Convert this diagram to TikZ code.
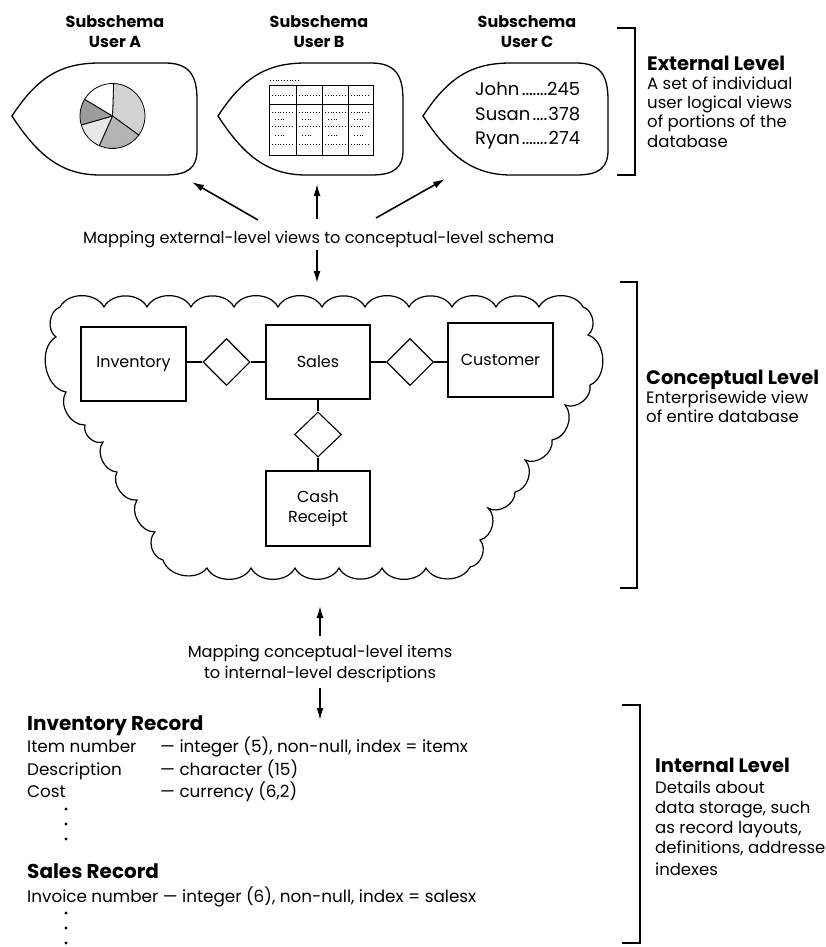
\documentclass[tikz,border=0pt]{standalone}
\usepackage{fontspec}
\setmainfont{Poppins}
\usetikzlibrary{arrows.meta,shapes.geometric}
\newcommand\ldr[3]{\hbox to #1{#2\leaders\hbox to 3.6pt{\hss.\hss}\hfill#3}}
\begin{document}
\begin{tikzpicture}[x=1pt,y=-1pt,
  t/.style={inner sep=0pt,anchor=base west,font=\fontsize{16.2}{19}\selectfont},
  ttl/.style={inner sep=0pt,anchor=base,font=\fontsize{16}{19}\bfseries\selectfont},
  lvl/.style={inner sep=0pt,anchor=base west,font=\fontsize{19.5}{22}\bfseries\selectfont},
  desc/.style={inner sep=0pt,anchor=base west,font=\fontsize{16.5}{19}\selectfont},
  rec/.style={inner sep=0pt,anchor=base west,font=\fontsize{16.8}{19}\selectfont},
  rech/.style={inner sep=0pt,anchor=base west,font=\fontsize{20}{22}\bfseries\selectfont},
  arr/.style={line width=1.6pt,-{Latex[length=12pt,width=7pt]}},
  brk/.style={line width=1.8pt},
  blob/.style={line width=1.3pt},
  ent/.style={draw,line width=1.1pt,inner sep=0pt,font=\fontsize{16}{20}\selectfont,align=center},
  rel/.style={draw,line width=1.1pt,diamond,inner sep=0pt,minimum width=47pt,minimum height=47pt},
  cl/.style={bend left=62},
  dotl/.style={line width=1pt,dash pattern=on 1pt off 1.8pt},
  sl/.style={draw=black,line width=0.8pt}]
\useasboundingbox (0,0) rectangle (826,947);
\fill[white] (0,0) rectangle (826,947);

% ---------- external level ----------
\node[ttl] (tA1) at (115,28) {Subschema};
\node[ttl] (tA2) at (115,48) {User A};
\node[ttl] (tB1) at (319,28) {Subschema};
\node[ttl] (tB2) at (319,48) {User B};
\node[ttl] (tC1) at (527,28) {Subschema};
\node[ttl] (tC2) at (527,48) {User C};

\foreach \dx in {0,206,411}{
  \draw[blob,xshift=\dx pt] (12,116) .. controls (38,76) and (62,63) .. (100,63)
    -- (165,63) .. controls (190,63) and (197,76) .. (197,100)
    -- (197,150) .. controls (197,168) and (188,175) .. (165,175)
    -- (100,175) .. controls (62,175) and (38,156) .. cycle;
}

% pie chart
\coordinate (pc) at (112.5,116);
\filldraw[sl,fill=gray!35] (pc) -- ++(-88:32.5) arc[start angle=-88,end angle=36,radius=32.5] -- cycle;
\filldraw[sl,fill=gray!58] (pc) -- ++(36:32.5) arc[start angle=36,end angle=114,radius=32.5] -- cycle;
\filldraw[sl,fill=gray!18] (pc) -- ++(114:32.5) arc[start angle=114,end angle=164,radius=32.5] -- cycle;
\filldraw[sl,fill=gray!78] (pc) -- ++(164:32.5) arc[start angle=164,end angle=211,radius=32.5] -- cycle;
\filldraw[sl,fill=white] (pc) -- ++(211:32.5) arc[start angle=211,end angle=272,radius=32.5] -- cycle;

% table
\draw[line width=1pt] (269,86) rectangle (373,155);
\draw[line width=1pt] (269,105) -- (373,105);
\foreach \cx in {296,322,348} \draw[line width=1pt] (\cx,86) -- (\cx,155);
\draw[dotl] (270,81) -- (300,81);
\foreach \ca/\cb in {269/296,296/322,322/348,348/373}{
  \foreach \ry in {96,113,127,144} \draw[dotl] (\ca+3,\ry) -- (\cb-3,\ry);
  \foreach \ry in {120,135} \draw[dotl] (\ca+6,\ry) -- (\ca+15,\ry);
}

% list in C
\node[inner sep=0pt,anchor=base west,font=\fontsize{18}{21}\selectfont] (j1) at (475,96) {\ldr{105pt}{John}{245}};
\node[inner sep=0pt,anchor=base west,font=\fontsize{18}{21}\selectfont] (j2) at (475,121) {\ldr{105pt}{Susan}{378}};
\node[inner sep=0pt,anchor=base west,font=\fontsize{18}{21}\selectfont] (j3) at (475,144) {\ldr{105pt}{Ryan}{274}};

% bracket + text
\draw[brk] (617,28) -- (635,28) -- (635,175) -- (617,175);
\node[lvl] (ext) at (647,71) {External Level};
\node[desc] (e1) at (647,90) {A set of individual};
\node[desc] (e2) at (647,109) {user logical views};
\node[desc] (e3) at (647,128) {of portions of the};
\node[desc] (e4) at (647,147) {database};

% ---------- mapping 1 ----------
\node[t] (map1) at (83,243) {Mapping external-level views to conceptual-level schema};
\coordinate (m1a) at (258,220); \coordinate (eA) at (192,182);
\coordinate (m1b) at (317,219); \coordinate (eB) at (317,184);
\coordinate (m1c) at (376,218); \coordinate (eC) at (445,179);
\coordinate (m1d) at (317,250); \coordinate (cTop) at (317,283);
\draw[arr] (m1a) -- (eA);
\draw[arr] (m1b) -- (eB);
\draw[arr] (m1c) -- (eC);
\draw[arr] (m1d) -- (cTop);

% ---------- conceptual level ----------
\draw[line width=1.2pt] (60,307)
  to[cl] (104,307) to[cl] (147,307) to[cl] (191,307) to[cl] (234,307)
  to[cl] (278,307) to[cl] (322,307) to[cl] (365,307) to[cl] (409,307)
  to[cl] (452,307) to[cl] (496,307) to[cl] (539,307) to[cl] (583,307)
  to[cl] (588,335) to[bend left=70] (590,385) to[cl] (565,405) to[cl] (552,440)
  to[cl] (525,460) to[cl] (515,492) to[cl] (488,508) to[cl] (480,540) to[cl] (470,567)
  to[cl] (426,568) to[cl] (382,568) to[cl] (339,568) to[cl] (295,568)
  to[cl] (251,568) to[cl] (207,568) to[cl] (163,560)
  to[cl] (155,532) to[cl] (137,500) to[cl] (117,472) to[cl] (103,442)
  to[cl] (85,425) to[cl] (66,392) to[bend left=70] (56,337) to[cl] (60,307);

\node[ent,minimum width=105pt,minimum height=74pt] (inv) at (133.5,364) {Inventory};
\node[ent,minimum width=104pt,minimum height=74pt] (sales) at (318,362) {Sales};
\node[ent,minimum width=105pt,minimum height=74pt] (cust) at (500.5,360) {Customer};
\node[ent,minimum width=104pt,minimum height=75pt] (cash) at (318,508.5) {Cash\\Receipt};
\node[rel] (d1) at (226.5,362) {};
\node[rel] (d2) at (410,362) {};
\node[rel,minimum height=45pt] (d3) at (318,434.5) {};
\draw[line width=1.1pt] (d1.west) -- (d1.west -| inv.east);
\draw[line width=1.1pt] (d1.east) -- (d1.east -| sales.west);
\draw[line width=1.1pt] (d2.west) -- (d2.west -| sales.east);
\draw[line width=1.1pt] (d2.east) -- (d2.east -| cust.west);
\draw[line width=1.1pt] (sales.south) -- (d3.north);
\draw[line width=1.1pt] (d3.south) -- (cash.north);

\draw[brk] (620,282) -- (637,282) -- (637,588) -- (620,588);
\node[lvl] (con) at (646,384) {Conceptual Level};
\node[desc] (c1) at (646,403) {Enterprisewide view};
\node[desc] (c2) at (646,422) {of entire database};

% ---------- mapping 2 ----------
\node[t,anchor=base] (map2a) at (320,657) {Mapping conceptual-level items};
\node[t,anchor=base] (map2b) at (320,678) {to internal-level descriptions};
\coordinate (m2u) at (320,636); \coordinate (cBot) at (320,606);
\coordinate (m2d) at (320,688); \coordinate (iTop) at (320,720);
\draw[arr] (m2u) -- (cBot);
\draw[arr] (m2d) -- (iTop);

% ---------- internal level ----------
\node[rech] (ir) at (27,730) {Inventory Record};
\node[rec] (r1a) at (27,752) {Item number};
\node[rec] (r1b) at (160,752) {--- integer (5), non-null, index = itemx};
\node[rec] (r2a) at (27,775) {Description};
\node[rec] (r2b) at (160,775) {--- character (15)};
\node[rec] (r3a) at (27,797) {Cost};
\node[rec] (r3b) at (160,797) {--- currency (6,2)};
\foreach \yy in {809,824,839} \fill (66,\yy) circle (1.6);
\node[rech] (sr) at (27,878) {Sales Record};
\node[rec] (s1) at (27,902) {Invoice number --- integer (6), non-null, index = salesx};
\foreach \yy in {913,928,943} \fill (66,\yy) circle (1.6);

\draw[brk] (622,705) -- (640,705) -- (640,943) -- (622,943);
\node[lvl] (int) at (655,772) {Internal Level};
\node[desc] (i1) at (655,793) {Details about};
\node[desc] (i2) at (655,813) {data storage, such};
\node[desc] (i3) at (655,833) {as record layouts,};
\node[desc] (i4) at (655,853) {definitions, addresse};
\node[desc] (i5) at (655,875) {indexes};
\end{tikzpicture}
\end{document}
